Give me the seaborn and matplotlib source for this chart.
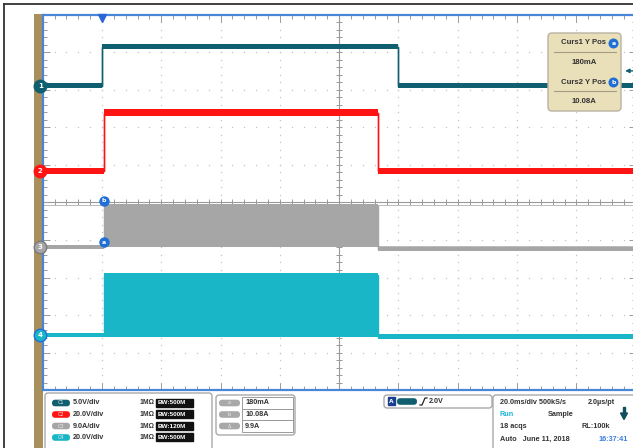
import numpy as np
import pandas as pd
import matplotlib
matplotlib.use("Agg")
import matplotlib.pyplot as plt
import seaborn as sns
from matplotlib.patches import FancyBboxPatch, Circle, Rectangle, Polygon

# ---------------- data (levels in screen divisions from bottom, time in ms; 20 ms/div) -------------
ch1_t  = [-20.0, 0.0, 100.0, 180.0]
ch1_lo = [8.11, 9.15, 8.11, 8.11]
ch1_hi = [8.11, 9.15, 8.11, 8.11]

ch2_t  = [-20.0, 0.6, 93.0, 180.0]
ch2_lo = [5.84, 7.39, 5.84, 5.84]
ch2_hi = [5.84, 7.39, 5.84, 5.84]

ch3_t  = [-20.0, 0.6, 93.0, 180.0]
ch3_lo = [3.81, 3.87, 3.76, 3.76]
ch3_hi = [3.81, 4.91, 3.76, 3.76]

ch4_t  = [-20.0, 0.6, 93.0, 180.0]
ch4_lo = [1.47, 1.47, 1.42, 1.42]
ch4_hi = [1.47, 3.07, 1.42, 1.42]

ch_names  = ["1", "2", "3", "4"]
ch_scales = ["5.0V/div", "20.0V/div", "9.0A/div", "20.0V/div"]
ch_bw     = ["500M", "500M", "120M", "500M"]
cursor_labels = ["Curs1 Y Pos", "Curs2 Y Pos"]
cursor_texts  = ["180mA", "10.08A"]
cursor_amps   = [0.18, 10.08]
delta_text    = "9.9A"
ch3_amps_per_div = 9.0
trig_volts = 2.0
ch1_volts_per_div = 5.0
acq_lines = [("20.0ms/div 500kS/s", "2.0\u00b5s/pt"), ("Run", "Sample"), ("18 acqs", "RL:100k"),
             ("Auto   June 11, 2018", "16:37:41")]

colors = {"1": "#0f5f70", "2": "#ff1414", "3": "#a6a6a6", "4": "#19b6c8"}
half_w = {"1": 0.065, "2": 0.09, "3": 0.045, "4": 0.06}

# ---------------- figure ----------------
W, H = 633, 448
fig = plt.figure(figsize=(W / 100, H / 100), dpi=100)
fig.patch.set_facecolor("white")

# background layer (frame + tan strip), below everything
bg = fig.add_axes([0, 0, 1, 1], zorder=-5)
bg.set_xlim(0, W)
bg.set_ylim(H, 0)
bg.axis("off")
bg.plot([4, 4], [4, H], color="#333333", lw=1.3)
bg.plot([4, W], [4, 4], color="#333333", lw=1.3)
bg.add_patch(Rectangle((34, 14), 8.5, H - 14, color="#a88f5c", lw=0))

L, T, R, B = 42.7, 15.0, 42.7 + 593.0, 390.0
ax = fig.add_axes([L / W, (H - B) / H, (R - L) / W, (B - T) / H], zorder=1)
ax.set_xlim(-20, 180)
ax.set_ylim(0, 10)
ax.set_facecolor("white")

# graticule: dotted lines at each division
minor_x = np.arange(-20, 180.01, 4.0)
minor_y = np.arange(0, 10.01, 0.2)
for xv in np.arange(0, 180, 20):
    if xv == 80:
        continue
    ax.plot(np.full_like(minor_y, xv), minor_y, ls="none", marker="s", ms=0.9, color="#c4c4c4", mew=0, zorder=1)
for yv in np.arange(1, 10, 1):
    if yv == 5:
        continue
    ax.plot(minor_x, np.full_like(minor_x, yv), ls="none", marker="s", ms=0.9, color="#c4c4c4", mew=0, zorder=1)
# center cross with ticks
ax.axhline(5, color="#9a9a9a", lw=0.8, zorder=1)
ax.axvline(80, color="#9a9a9a", lw=0.8, zorder=1)
ax.plot(minor_x, np.full_like(minor_x, 5.0), ls="none", marker="|", ms=4, mew=0.7, color="#9a9a9a", zorder=1)
ax.plot(np.full_like(minor_y, 80.0), minor_y, ls="none", marker="_", ms=4, mew=0.7, color="#9a9a9a", zorder=1)

# border ticks
ax.set_xticks(np.arange(-20, 181, 20))
ax.set_yticks(np.arange(0, 11, 1))
ax.set_xticks(minor_x, minor=True)
ax.set_yticks(minor_y, minor=True)
ax.tick_params(which="both", direction="in", top=True, right=True, bottom=True, left=True,
               labelbottom=False, labelleft=False, color="#9a9a9a", width=0.7)
ax.tick_params(which="major", length=5)
ax.tick_params(which="minor", length=3)
for s in ax.spines.values():
    s.set_color("#4a86d8")
    s.set_linewidth(1.6)

# traces
rows = []
for name, t, lo, hi in [("1", ch1_t, ch1_lo, ch1_hi), ("2", ch2_t, ch2_lo, ch2_hi),
                        ("3", ch3_t, ch3_lo, ch3_hi), ("4", ch4_t, ch4_lo, ch4_hi)]:
    for ti, l, h in zip(t, lo, hi):
        rows.append({"ch": name, "t": ti, "lo": l, "hi": h})
df = pd.DataFrame(rows)

for name, g in df.groupby("ch"):
    c = colors[name]
    hw = half_w[name]
    ax.fill_between(g["t"], g["lo"] - hw, g["hi"] + hw, step="post", color=c, lw=0, zorder=3)
    sns.lineplot(data=g, x="t", y="hi", ax=ax, color=c, lw=1.0, estimator=None, sort=False,
                 drawstyle="steps-post", zorder=3, legend=False)
    sns.lineplot(data=g, x="t", y="lo", ax=ax, color=c, lw=1.0, estimator=None, sort=False,
                 drawstyle="steps-post", zorder=3, legend=False)
ax.set_xlabel("")
ax.set_ylabel("")

# cursors (relative to ch3 ground)
ch3_gnd = ch3_lo[0]
cur_y = [ch3_gnd + a / ch3_amps_per_div for a in cursor_amps]
for cy, lab in zip(cur_y, ["a", "b"]):
    ax.axhline(cy, color="#b0b0b0", lw=0.6, zorder=2)
    ax.plot([0.6], [cy + 0.11], marker="o", ms=6.5, color="#1f6fd6", mec="#1f6fd6", zorder=6, clip_on=False)
    ax.text(0.6, cy + 0.11, lab, color="white", fontsize=4.5, ha="center", va="center",
            fontweight="bold", zorder=7)

# channel ground markers on left edge
gnds = {"1": ch1_lo[0], "2": ch2_lo[0], "3": ch3_lo[0], "4": ch4_lo[0]}
edge = {"1": "#0f5f70", "2": "#ff1414", "3": "#7a7a7a", "4": "#1f6fd6"}
for name in ch_names:
    ax.plot([-20.8], [gnds[name]], marker="o", ms=9, color=colors[name], mec=edge[name], mew=1.0,
            zorder=8, clip_on=False)
    ax.text(-20.8, gnds[name], name, color="white", fontsize=5, ha="center", va="center",
            fontweight="bold", zorder=9, clip_on=False)

# trigger position marker (top) and trigger level arrow (right)
trig_div = ch1_lo[0] + trig_volts / ch1_volts_per_div
ax.plot([0], [9.93], marker="v", ms=6, color="#2a66d8", zorder=8, clip_on=False)
ax.annotate("", xy=(175.5, trig_div), xytext=(180, trig_div),
            arrowprops=dict(arrowstyle="-|>", color="#0f5f70", lw=1.0, mutation_scale=6), zorder=9)

# ---------------- overlay in pixel coordinates ----------------
ov = fig.add_axes([0, 0, 1, 1], zorder=10)
ov.set_xlim(0, W)
ov.set_ylim(H, 0)
ov.axis("off")
ov.patch.set_alpha(0)

TXT = dict(fontsize=5.2, fontweight="bold", color="#333333", va="center", family="Liberation Sans")

# cursor readout box
ov.add_patch(FancyBboxPatch((548, 33), 73, 78, boxstyle="round,pad=0,rounding_size=4",
                            fc="#e9dfb8", ec="#b9b2a0", lw=1.0))
for i, (lab, val) in enumerate(zip(cursor_labels, cursor_texts)):
    y0 = 43 + i * 39
    ov.text(606, y0, lab, ha="right", **{**TXT, "fontsize": 5.6})
    ov.add_patch(Circle((613.5, y0 + 0.5), 4.3, color="#1f6fd6"))
    ov.text(613.5, y0 + 0.5, "ab"[i], ha="center", fontsize=4.5, fontweight="bold", color="white",
            va="center")
    ov.plot([554, 616], [y0 + 9, y0 + 9], color="#a39c88", lw=0.8)
    ov.text(584, y0 + 19.5, val, ha="center", **{**TXT, "fontsize": 5.6})

# channel box
ov.add_patch(FancyBboxPatch((45, 393), 167, 70, boxstyle="round,pad=0,rounding_size=3",
                            fc="white", ec="#a0a0a0", lw=0.9))
row_y = [403, 414.5, 426, 437.5]
for i, name in enumerate(ch_names):
    y0 = row_y[i]
    ov.add_patch(FancyBboxPatch((52, y0 - 3.3), 18, 6.6, boxstyle="round,pad=0,rounding_size=3.3",
                                fc=colors[name], ec="none"))
    ov.text(61, y0, "C" + name, ha="center", fontsize=3.5, color="#e8e8e8", va="center")
    ov.text(73, y0, ch_scales[i], ha="left", **TXT)
    ov.text(140, y0, "1M\u03a9", ha="left", **{**TXT, "fontsize": 4.9})
    ov.add_patch(Rectangle((156, y0 - 4), 37, 8, color="#111111"))
    ov.text(158, y0, "BW:" + ch_bw[i], ha="left", fontsize=4.6, fontweight="bold", color="white",
            va="center", family="Liberation Sans")

# cursor value box
ov.add_patch(FancyBboxPatch((216, 395), 79, 40, boxstyle="round,pad=0,rounding_size=3",
                            fc="white", ec="#a0a0a0", lw=0.9))
for i, (v, p) in enumerate(zip(cursor_texts + [delta_text], ["a", "b", "\u0394"])):
    y0 = row_y[i]
    ov.add_patch(FancyBboxPatch((219, y0 - 3.3), 21, 6.6, boxstyle="round,pad=0,rounding_size=3.3",
                                fc="#a8a8a8", ec="none"))
    ov.text(229.5, y0, p, ha="center", fontsize=3.5, color="#e8e8e8", va="center")
    ov.add_patch(Rectangle((242, y0 - 5.7), 51, 11.4, fc="white", ec="#9a9a9a", lw=0.7))
    ov.text(245, y0, v, ha="left", **TXT)

# trigger box
ov.add_patch(FancyBboxPatch((384, 395), 108, 13, boxstyle="round,pad=0,rounding_size=3",
                            fc="white", ec="#a0a0a0", lw=0.9))
ov.add_patch(Rectangle((387.5, 397.5), 7.5, 8, color="#1b3f8f"))
ov.text(391.2, 401.5, "A", ha="center", va="center", fontsize=4.2, color="white", fontweight="bold")
ov.add_patch(FancyBboxPatch((397, 398.2), 20, 6.6, boxstyle="round,pad=0,rounding_size=3.3",
                            fc=colors["1"], ec="none"))
ov.plot([420, 422, 425, 427], [405, 405, 398, 398], color="#222222", lw=0.9)
ov.text(429, 401.5, f"{trig_volts:.1f}V", ha="left", **TXT)

# acquisition box
ov.add_patch(FancyBboxPatch((493, 395), 145, 70, boxstyle="round,pad=0,rounding_size=3",
                            fc="white", ec="#a0a0a0", lw=0.9))
acq_y = [402, 414, 427, 439.5]
ov.text(500, acq_y[0], acq_lines[0][0], ha="left", **TXT)
ov.text(588, acq_y[0], acq_lines[0][1], ha="left", **TXT)
ov.text(500, acq_y[1], acq_lines[1][0], ha="left", **{**TXT, "color": "#1cb4d8"})
ov.text(548, acq_y[1], acq_lines[1][1], ha="left", **TXT)
ov.add_patch(Rectangle((622.8, 407), 2.4, 7, color="#0f4f60"))
ov.add_patch(Polygon([[620.5, 413], [627.5, 413], [624, 419.5]], closed=True, color="#0f4f60"))
ov.text(500, acq_y[2], acq_lines[2][0], ha="left", **TXT)
ov.text(582, acq_y[2], acq_lines[2][1], ha="left", **TXT)
ov.text(500, acq_y[3], acq_lines[3][0], ha="left", **TXT)
ov.text(598, acq_y[3], acq_lines[3][1], ha="left", **{**TXT, "color": "#3a7de0"})

fig.savefig("out.png", dpi=100, facecolor="white")
